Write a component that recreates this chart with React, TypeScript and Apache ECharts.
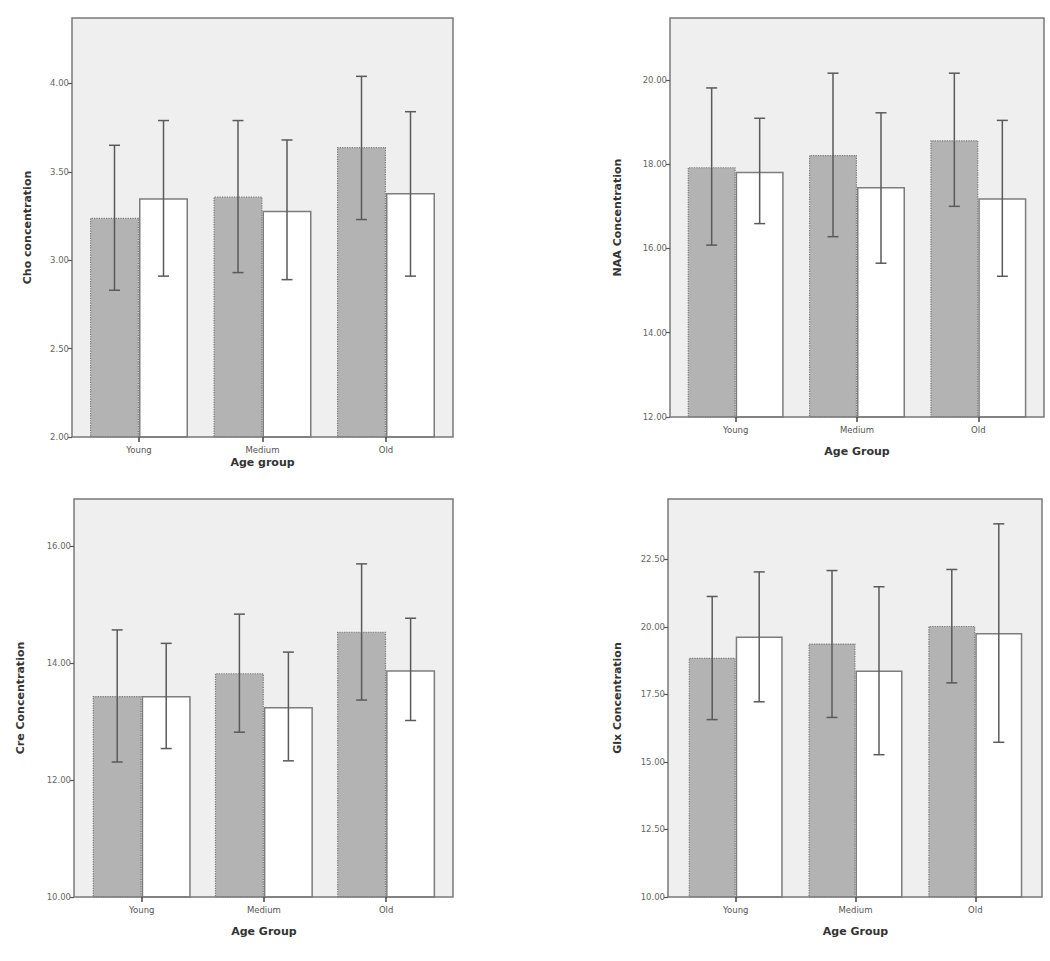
import React, { useEffect, useRef } from "react";
import * as echarts from "echarts";

const categories = ["Young", "Medium", "Old"];

// Cho
const choGrayMean = [3.24, 3.36, 3.64];
const choGrayLow = [2.83, 2.93, 3.23];
const choGrayHigh = [3.65, 3.79, 4.04];
const choWhiteMean = [3.35, 3.28, 3.38];
const choWhiteLow = [2.91, 2.89, 2.91];
const choWhiteHigh = [3.79, 3.68, 3.84];
const choTicks = [2.0, 2.5, 3.0, 3.5, 4.0];

// NAA
const naaGrayMean = [17.93, 18.22, 18.57];
const naaGrayLow = [16.08, 16.28, 17.0];
const naaGrayHigh = [19.81, 20.16, 20.16];
const naaWhiteMean = [17.82, 17.46, 17.19];
const naaWhiteLow = [16.59, 15.65, 15.34];
const naaWhiteHigh = [19.09, 19.22, 19.04];
const naaTicks = [12, 14, 16, 18, 20];

// Cre
const creGrayMean = [13.44, 13.83, 14.54];
const creGrayLow = [12.31, 12.82, 13.37];
const creGrayHigh = [14.57, 14.84, 15.7];
const creWhiteMean = [13.44, 13.25, 13.88];
const creWhiteLow = [12.54, 12.33, 13.02];
const creWhiteHigh = [14.34, 14.19, 14.77];
const creTicks = [10, 12, 14, 16];

// Glx
const glxGrayMean = [18.86, 19.39, 20.04];
const glxGrayLow = [16.57, 16.65, 17.93];
const glxGrayHigh = [21.13, 22.09, 22.13];
const glxWhiteMean = [19.65, 18.39, 19.78];
const glxWhiteLow = [17.23, 15.27, 15.73];
const glxWhiteHigh = [22.04, 21.49, 23.82];
const glxTicks = [10, 12.5, 15, 17.5, 20, 22.5];

const panels = [
  {
    yName: "Cho concentration", xName: "Age group",
    grayMean: choGrayMean, grayLow: choGrayLow, grayHigh: choGrayHigh,
    whiteMean: choWhiteMean, whiteLow: choWhiteLow, whiteHigh: choWhiteHigh,
    ticks: choTicks, min: 2, max: 4.37,
    frame: { x: 72, y: 18, w: 381, h: 419 },
    grid: { left: 77.25, top: 18, width: 370.5, height: 419 },
    offset: 5.25, barWidth: 49, yGap: 39, xGap: 20,
  },
  {
    yName: "NAA Concentration", xName: "Age Group",
    grayMean: naaGrayMean, grayLow: naaGrayLow, grayHigh: naaGrayHigh,
    whiteMean: naaWhiteMean, whiteLow: naaWhiteLow, whiteHigh: naaWhiteHigh,
    ticks: naaTicks, min: 12, max: 21.47,
    frame: { x: 670, y: 18, w: 374, h: 399 },
    grid: { left: 675, top: 18, width: 364, height: 399 },
    offset: 5, barWidth: 48, yGap: 47, xGap: 29,
  },
  {
    yName: "Cre Concentration", xName: "Age Group",
    grayMean: creGrayMean, grayLow: creGrayLow, grayHigh: creGrayHigh,
    whiteMean: creWhiteMean, whiteLow: creWhiteLow, whiteHigh: creWhiteHigh,
    ticks: creTicks, min: 10, max: 16.81,
    frame: { x: 74, y: 499, w: 379, h: 398 },
    grid: { left: 80.6, top: 499, width: 366.6, height: 398 },
    offset: 6.6, barWidth: 49, yGap: 48, xGap: 29,
  },
  {
    yName: "Glx Concentration", xName: "Age Group",
    grayMean: glxGrayMean, grayLow: glxGrayLow, grayHigh: glxGrayHigh,
    whiteMean: glxWhiteMean, whiteLow: glxWhiteLow, whiteHigh: glxWhiteHigh,
    ticks: glxTicks, min: 10, max: 24.74,
    frame: { x: 668, y: 499, w: 374, h: 398 },
    grid: { left: 675.8, top: 499, width: 359.4, height: 398 },
    offset: 7.8, barWidth: 47, yGap: 45, xGap: 29,
  },
];

const FONT = "DejaVu Sans";

function makeErrorRender(side: number, barWidth: number) {
  return (params: any, api: any) => {
    const x = api.value(0);
    const lo = api.coord([x, api.value(1)]);
    const hi = api.coord([x, api.value(2)]);
    const cx = lo[0] + side * barWidth / 2;
    const cap = 5.5;
    const style = { stroke: "#5a5a5a", lineWidth: 1.5 };
    return {
      type: "group",
      children: [
        { type: "line", shape: { x1: cx, y1: hi[1], x2: cx, y2: lo[1] }, style },
        { type: "line", shape: { x1: cx - cap, y1: hi[1], x2: cx + cap, y2: hi[1] }, style },
        { type: "line", shape: { x1: cx - cap, y1: lo[1], x2: cx + cap, y2: lo[1] }, style },
      ],
    };
  };
}

export default function App() {
  const ref = useRef<HTMLDivElement>(null);
  useEffect(() => {
    if (!ref.current) return;
    const chart = echarts.init(ref.current, null, { renderer: "svg" });
    const grid: any[] = [];
    const xAxis: any[] = [];
    const yAxis: any[] = [];
    const series: any[] = [];
    const graphic: any[] = [];
    panels.forEach((p, i) => {
      grid.push({ left: p.grid.left, top: p.grid.top, width: p.grid.width, height: p.grid.height, containLabel: false });
      graphic.push({
        type: "rect", z: 0, silent: true,
        shape: { x: p.frame.x, y: p.frame.y, width: p.frame.w, height: p.frame.h },
        style: { fill: "#efefef" },
      });
      graphic.push({
        type: "rect", z: 100, silent: true,
        shape: { x: p.frame.x, y: p.frame.y, width: p.frame.w, height: p.frame.h },
        style: { fill: "none", stroke: "#7a7a7a", lineWidth: 1.5 },
      });
      xAxis.push({
        type: "category", gridIndex: i, data: categories,
        name: p.xName, nameLocation: "middle", nameGap: p.xGap,
        nameTextStyle: { fontFamily: FONT, fontWeight: "bold", fontSize: 11, color: "#333" },
        axisLine: { show: false },
        axisTick: { show: true, alignWithLabel: true, length: 5, lineStyle: { color: "#444", width: 1.5 } },
        axisLabel: { fontFamily: FONT, fontSize: 8.5, color: "#555", margin: 8 },
        z: 101,
      });
      yAxis.push({
        type: "value", gridIndex: i, min: p.min, max: p.max, offset: p.offset,
        name: p.yName, nameLocation: "middle", nameGap: p.yGap, nameRotate: 90,
        nameTextStyle: { fontFamily: FONT, fontWeight: "bold", fontSize: 11, color: "#333" },
        axisLine: { show: false },
        splitLine: { show: false },
        axisTick: { show: true, length: 4, customValues: p.ticks, lineStyle: { color: "#555", width: 1.2 } },
        axisLabel: {
          fontFamily: FONT, fontSize: 8.5, color: "#666", margin: 3,
          customValues: p.ticks,
          formatter: (v: number) => v.toFixed(2),
        },
        z: 101,
      });
      series.push({
        type: "bar", xAxisIndex: i, yAxisIndex: i, data: p.grayMean,
        barWidth: p.barWidth, barGap: "0%",
        itemStyle: { color: "#b3b3b3", borderColor: "#777777", borderWidth: 1.2, borderType: "dotted" },
        z: 2,
      });
      series.push({
        type: "bar", xAxisIndex: i, yAxisIndex: i, data: p.whiteMean,
        barWidth: p.barWidth, barGap: "0%",
        itemStyle: { color: "#ffffff", borderColor: "#7d7d7d", borderWidth: 1.5 },
        z: 2,
      });
      series.push({
        type: "custom", xAxisIndex: i, yAxisIndex: i, z: 10,
        renderItem: makeErrorRender(-1, p.barWidth),
        encode: { x: 0, y: [1, 2] },
        data: categories.map((_, k) => [k, p.grayLow[k], p.grayHigh[k]]),
      });
      series.push({
        type: "custom", xAxisIndex: i, yAxisIndex: i, z: 10,
        renderItem: makeErrorRender(1, p.barWidth),
        encode: { x: 0, y: [1, 2] },
        data: categories.map((_, k) => [k, p.whiteLow[k], p.whiteHigh[k]]),
      });
    });
    chart.setOption({
      animation: false,
      backgroundColor: "#ffffff",
      grid, xAxis, yAxis, series, graphic,
    });
    return () => chart.dispose();
  }, []);
  return (
    <div
      ref={ref}
      style={{ position: "absolute", left: 0, top: 0, width: 1050, height: 961 }}
    />
  );
}
